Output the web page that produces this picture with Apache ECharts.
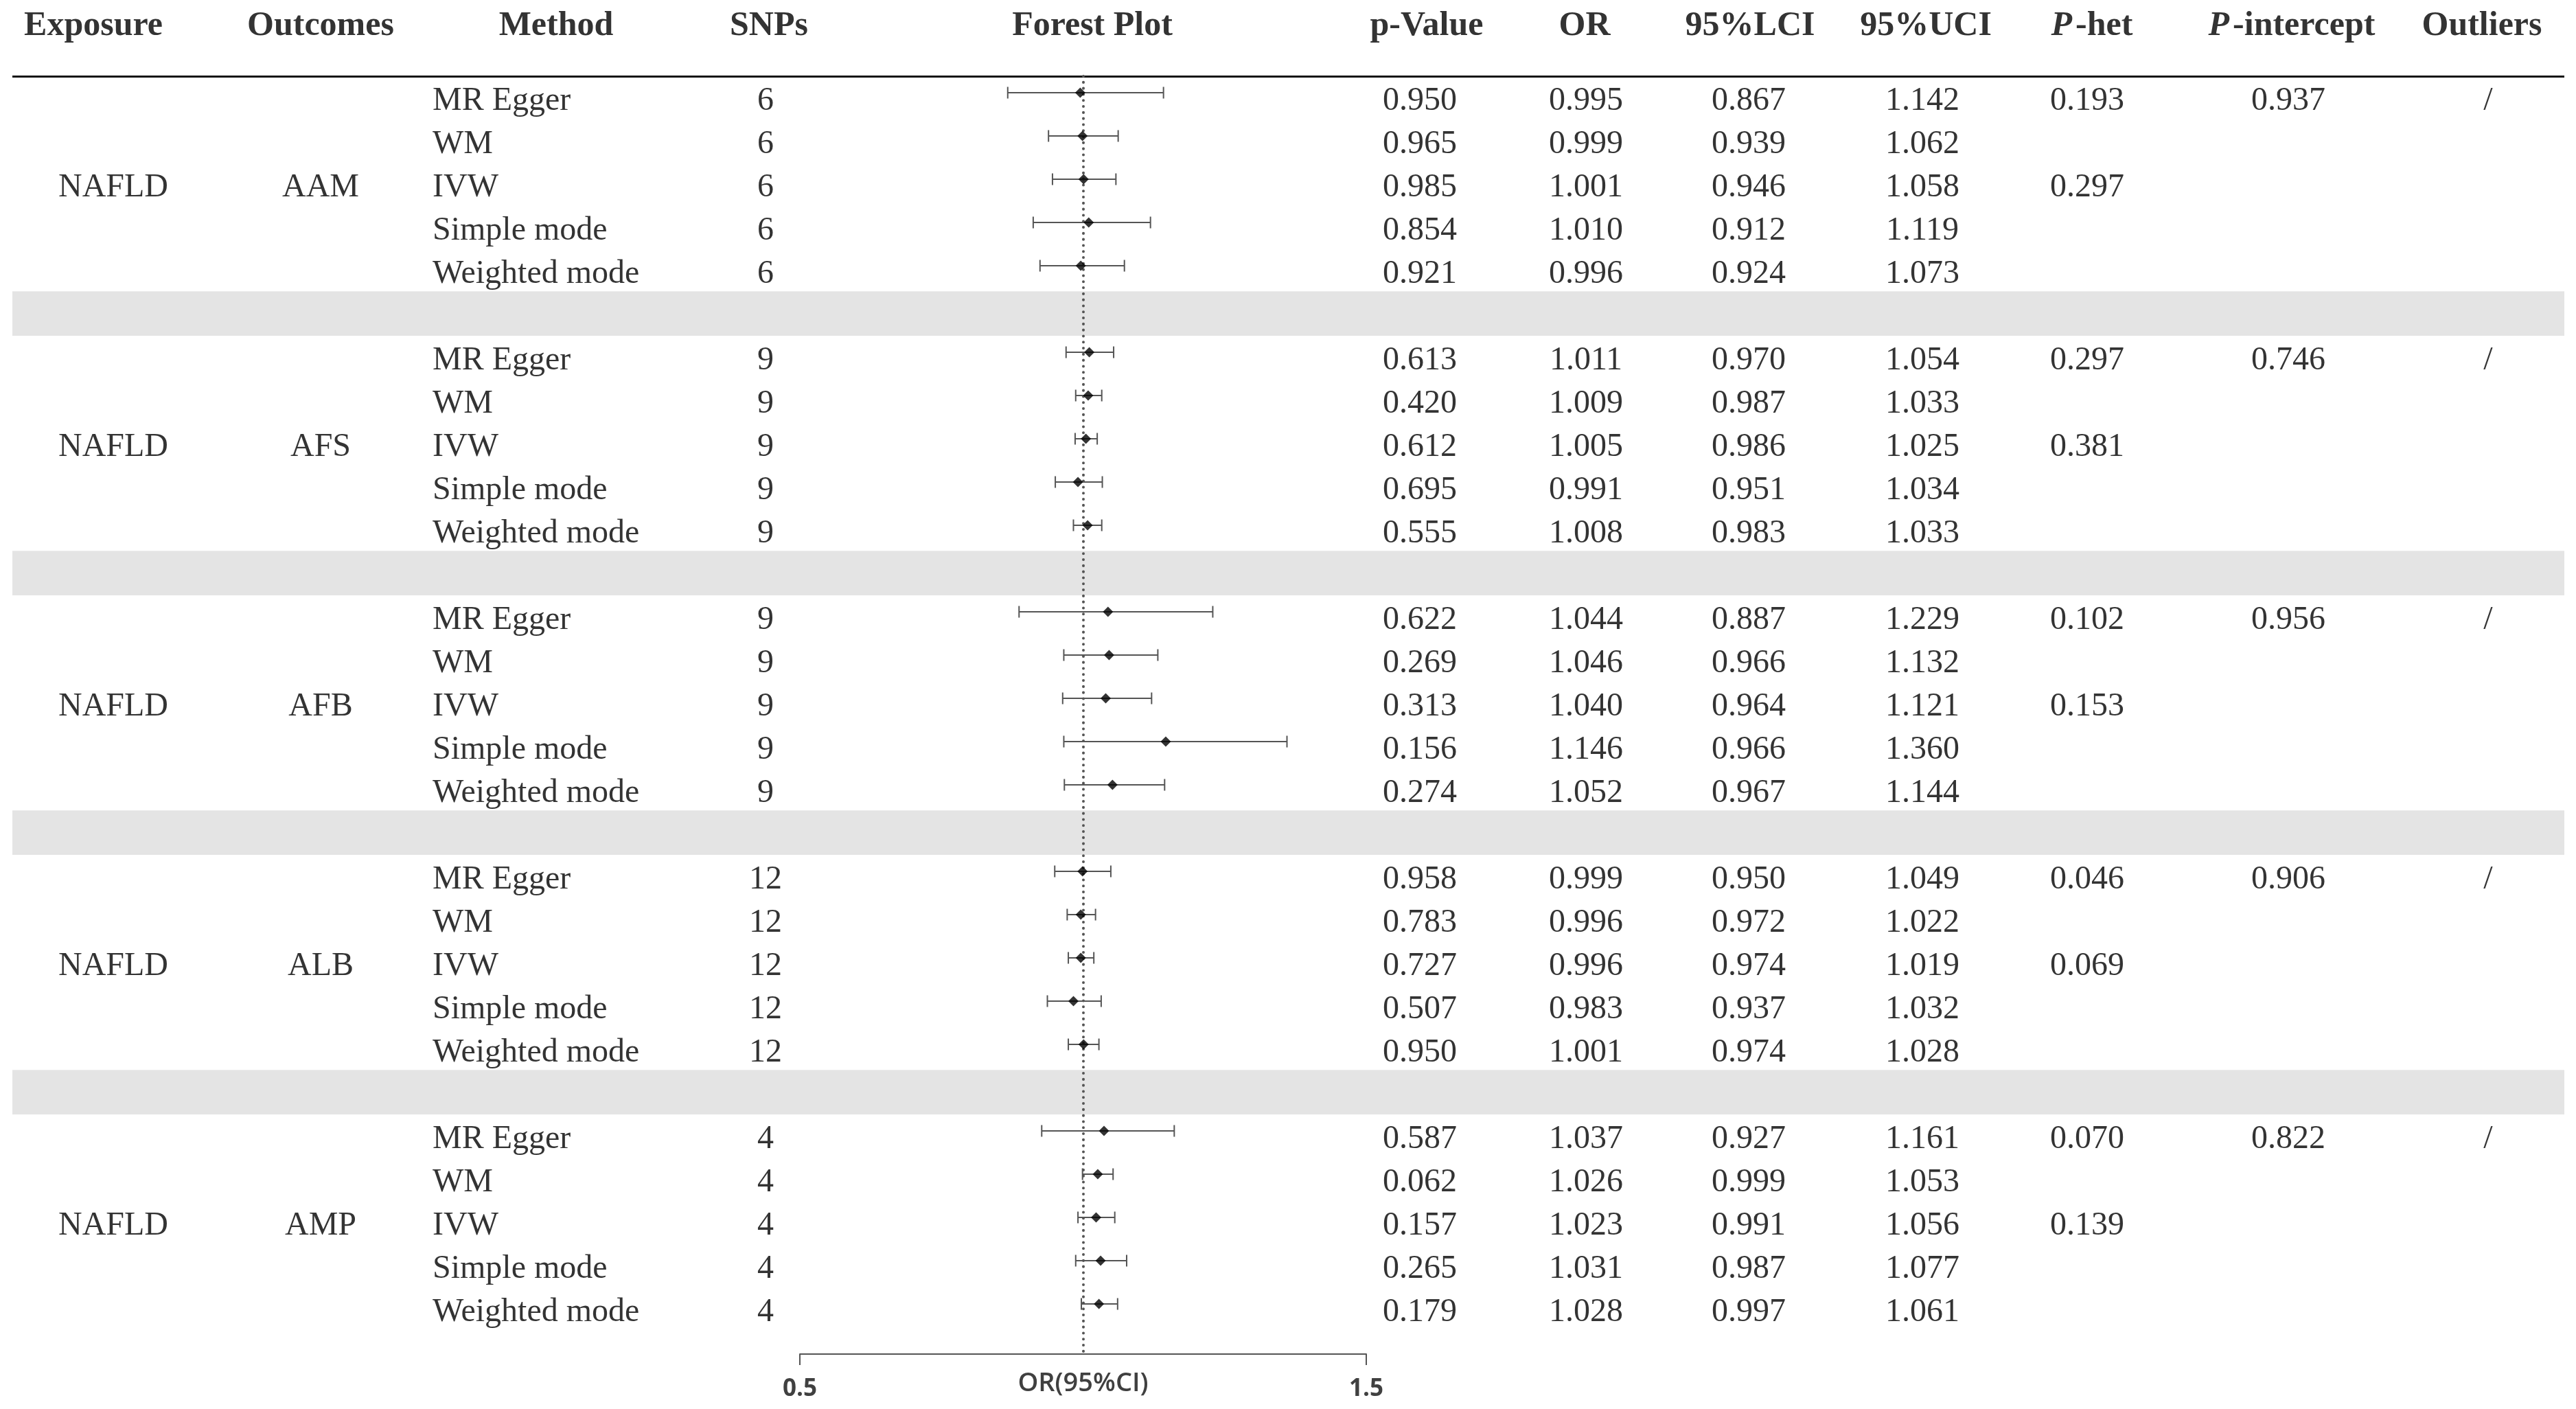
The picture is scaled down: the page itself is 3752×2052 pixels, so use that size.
<!DOCTYPE html>
<html>
<head>
<meta charset="utf-8">
<script src="https://cdn.jsdelivr.net/npm/echarts@6/dist/echarts.min.js"></script>
<style>
html, body { margin: 0; padding: 0; background: #fff; }
#chart { width: 3752px; height: 2052px; }
</style>
</head>
<body>
<div id="chart"></div>
<script>
// table data, one entry per row inside each group (MR Egger, WM, IVW, Simple mode, Weighted mode)
var headers = ['Exposure', 'Outcomes', 'Method', 'SNPs', 'Forest Plot', 'p-Value', 'OR', '95%LCI', '95%UCI', 'P-het', 'P-intercept', 'Outliers'];
var exposures = ['NAFLD', 'NAFLD', 'NAFLD', 'NAFLD', 'NAFLD'];
var outcomes = ['AAM', 'AFS', 'AFB', 'ALB', 'AMP'];
var methods = ['MR Egger', 'WM', 'IVW', 'Simple mode', 'Weighted mode'];
var snps = [6, 9, 9, 12, 4];
var pValues = [
    0.950, 0.965, 0.985, 0.854, 0.921,
    0.613, 0.420, 0.612, 0.695, 0.555,
    0.622, 0.269, 0.313, 0.156, 0.274,
    0.958, 0.783, 0.727, 0.507, 0.950,
    0.587, 0.062, 0.157, 0.265, 0.179
];
var orValues = [
    0.995, 0.999, 1.001, 1.010, 0.996,
    1.011, 1.009, 1.005, 0.991, 1.008,
    1.044, 1.046, 1.040, 1.146, 1.052,
    0.999, 0.996, 0.996, 0.983, 1.001,
    1.037, 1.026, 1.023, 1.031, 1.028
];
var lciValues = [
    0.867, 0.939, 0.946, 0.912, 0.924,
    0.970, 0.987, 0.986, 0.951, 0.983,
    0.887, 0.966, 0.964, 0.966, 0.967,
    0.950, 0.972, 0.974, 0.937, 0.974,
    0.927, 0.999, 0.991, 0.987, 0.997
];
var uciValues = [
    1.142, 1.062, 1.058, 1.119, 1.073,
    1.054, 1.033, 1.025, 1.034, 1.033,
    1.229, 1.132, 1.121, 1.360, 1.144,
    1.049, 1.022, 1.019, 1.032, 1.028,
    1.161, 1.053, 1.056, 1.077, 1.061
];
// P-het: [MR Egger, IVW] per group
var pHet = [[0.193, 0.297], [0.297, 0.381], [0.102, 0.153], [0.046, 0.069], [0.070, 0.139]];
var pIntercept = [0.937, 0.746, 0.956, 0.906, 0.822];
var outliers = ['/', '/', '/', '/', '/'];
var axisTicks = [0.5, 1.5];

// layout (pixels)
var W = 3752, H = 2052;
var rowTop = 147, rowH = 63;          // centre of first text row, row pitch
var headerY = 38, ruleY = 111;
var headerX = [136, 467, 810, 1120, 1591, 2078, 2308, 2549, 2805, 3047, 3338, 3615];
var colX = {exposure: 165, outcome: 467, method: 630, snps: 1115, p: 2068, or: 2310, lci: 2547, uci: 2800, phet: 3040, pint: 3333, outliers: 3624};
var plotLeft = 1165, plotRight = 1990, plotBottom = 1972, whiskerTop = 135;

var serif = 'Liberation Serif';

function rowOf(g, m) { return g * 6 + m; }
function tableY(px) { return (px - rowTop) / rowH; }
function fmt(v) { return v.toFixed(3); }

var cells = {exposure: [], outcome: [], method: [], snps: [], p: [], or: [], lci: [], uci: [], phet: [], pint: [], outliers: []};
var forestBars = [], forestPts = [];
for (var g = 0; g < outcomes.length; g++) {
    cells.exposure.push({name: exposures[g], value: [colX.exposure, rowOf(g, 2)]});
    cells.outcome.push({name: outcomes[g], value: [colX.outcome, rowOf(g, 2)]});
    cells.phet.push({name: fmt(pHet[g][0]), value: [colX.phet, rowOf(g, 0)]});
    cells.phet.push({name: fmt(pHet[g][1]), value: [colX.phet, rowOf(g, 2)]});
    cells.pint.push({name: fmt(pIntercept[g]), value: [colX.pint, rowOf(g, 0)]});
    cells.outliers.push({name: outliers[g], value: [colX.outliers, rowOf(g, 0)]});
    for (var m = 0; m < methods.length; m++) {
        var k = g * 5 + m, r = rowOf(g, m);
        cells.method.push({name: methods[m], value: [colX.method, r]});
        cells.snps.push({name: String(snps[g]), value: [colX.snps, r]});
        cells.p.push({name: fmt(pValues[k]), value: [colX.p, r]});
        cells.or.push({name: fmt(orValues[k]), value: [colX.or, r]});
        cells.lci.push({name: fmt(lciValues[k]), value: [colX.lci, r]});
        cells.uci.push({name: fmt(uciValues[k]), value: [colX.uci, r]});
        forestBars.push([lciValues[k], uciValues[k], r]);
        forestPts.push([orValues[k], r]);
    }
}

function textSeries(name, data, align) {
    return {
        name: name,
        type: 'scatter',
        xAxisIndex: 0,
        yAxisIndex: 0,
        symbol: 'rect',
        symbolSize: 1,
        silent: true,
        z: 3,
        itemStyle: {color: 'transparent'},
        label: {
            show: true,
            position: 'inside',
            align: align || 'center',
            verticalAlign: 'middle',
            formatter: '{b}',
            fontFamily: serif,
            fontSize: 48,
            color: '#000'
        },
        data: data
    };
}

var series = [];
for (var key in cells) {
    series.push(textSeries(key, cells[key], key === 'method' ? 'left' : 'center'));
}

// header row, rule and grey separators
var bands = [];
for (var b = 1; b < outcomes.length; b++) {
    var br = rowOf(b, 0) - 1;
    bands.push([{coord: [18, br - 0.6]}, {coord: [3735, br + 0.43]}]);
}
series.push({
    name: 'header',
    type: 'scatter',
    symbol: 'rect',
    symbolSize: 1,
    silent: true,
    z: 3,
    itemStyle: {color: 'transparent'},
    label: {
        show: true,
        position: 'inside',
        formatter: function (p) {
            if (p.name.indexOf('P-') === 0) {
                return '{i|P}{s| }{b|' + p.name.slice(1) + '}';
            }
            return '{b|' + p.name + '}';
        },
        rich: {
            b: {fontFamily: serif, fontWeight: 'bold', fontSize: 50, color: '#000'},
            i: {fontFamily: serif, fontWeight: 'bold', fontStyle: 'italic', fontSize: 50, color: '#000'},
            s: {fontFamily: serif, fontSize: 20}
        }
    },
    data: headers.map(function (h, i) { return {name: h, value: [headerX[i], tableY(headerY)]}; }),
    markLine: {
        silent: true,
        symbol: ['none', 'none'],
        label: {show: false},
        lineStyle: {color: '#111', width: 3, type: 'solid'},
        data: [[{coord: [18, tableY(ruleY)]}, {coord: [3735, tableY(ruleY)]}]]
    },
    markArea: {
        silent: true,
        itemStyle: {color: '#e4e4e4'},
        data: bands
    }
});

// forest plot
series.push({
    name: 'ci',
    type: 'custom',
    xAxisIndex: 1,
    yAxisIndex: 1,
    silent: true,
    z: 4,
    encode: {x: [0, 1], y: 2},
    renderItem: function (params, api) {
        var y = api.value(2);
        var a = api.coord([api.value(0), y]);
        var c = api.coord([api.value(1), y]);
        var h = 8.5;
        var st = {stroke: '#555', lineWidth: 2};
        return {
            type: 'group',
            children: [
                {type: 'line', shape: {x1: a[0], y1: a[1], x2: c[0], y2: c[1]}, style: st},
                {type: 'line', shape: {x1: a[0], y1: a[1] - h, x2: a[0], y2: a[1] + h}, style: st},
                {type: 'line', shape: {x1: c[0], y1: c[1] - h, x2: c[0], y2: c[1] + h}, style: st}
            ]
        };
    },
    data: forestBars
});
series.push({
    name: 'OR',
    type: 'scatter',
    xAxisIndex: 1,
    yAxisIndex: 1,
    symbol: 'diamond',
    symbolSize: 15,
    silent: true,
    z: 5,
    itemStyle: {color: '#000'},
    data: forestPts,
    markLine: {
        silent: true,
        symbol: ['none', 'none'],
        label: {show: false},
        lineStyle: {color: '#555', width: 4, type: [0.1, 8.7], cap: 'round'},
        data: [{xAxis: 1}]
    }
});

var dom = document.getElementById('chart');
var myChart = echarts.init(dom, null, {renderer: 'canvas'});
var option = {
    backgroundColor: '#fff',
    animation: false,
    grid: [
        {left: 0, right: 0, top: 0, bottom: 0, containLabel: false, outerBoundsMode: 'none'},
        {left: plotLeft, right: W - plotRight, top: ruleY, bottom: H - plotBottom, containLabel: false, outerBoundsMode: 'none'}
    ],
    xAxis: [
        {gridIndex: 0, type: 'value', min: 0, max: W, show: false},
        {
            gridIndex: 1,
            type: 'value',
            position: 'bottom',
            min: 0.5,
            max: 1.5,
            splitLine: {show: false},
            axisLine: {show: true, onZero: false, lineStyle: {color: '#555', width: 2}},
            axisTick: {show: true, customValues: axisTicks, length: 16, lineStyle: {color: '#555', width: 2}},
            axisLabel: {
                show: true,
                customValues: axisTicks,
                formatter: function (v) { return v.toFixed(1); },
                margin: 34,
                fontFamily: 'Open Sans',
                fontWeight: 700,
                fontSize: 35,
                color: '#404040'
            },
            name: 'OR(95%CI)',
            nameLocation: 'middle',
            nameGap: 24,
            nameMoveOverlap: false,
            nameTextStyle: {fontFamily: 'Open Sans', fontWeight: 600, fontSize: 38, color: '#404040'}
        }
    ],
    yAxis: [
        {gridIndex: 0, type: 'value', inverse: true, min: tableY(0), max: tableY(H), show: false},
        {
            gridIndex: 1, type: 'value', inverse: true, show: false,
            min: (ruleY - whiskerTop) / rowH,
            max: (plotBottom - whiskerTop) / rowH
        }
    ],
    series: series
};
myChart.setOption(option, true);
</script>
</body>
</html>
